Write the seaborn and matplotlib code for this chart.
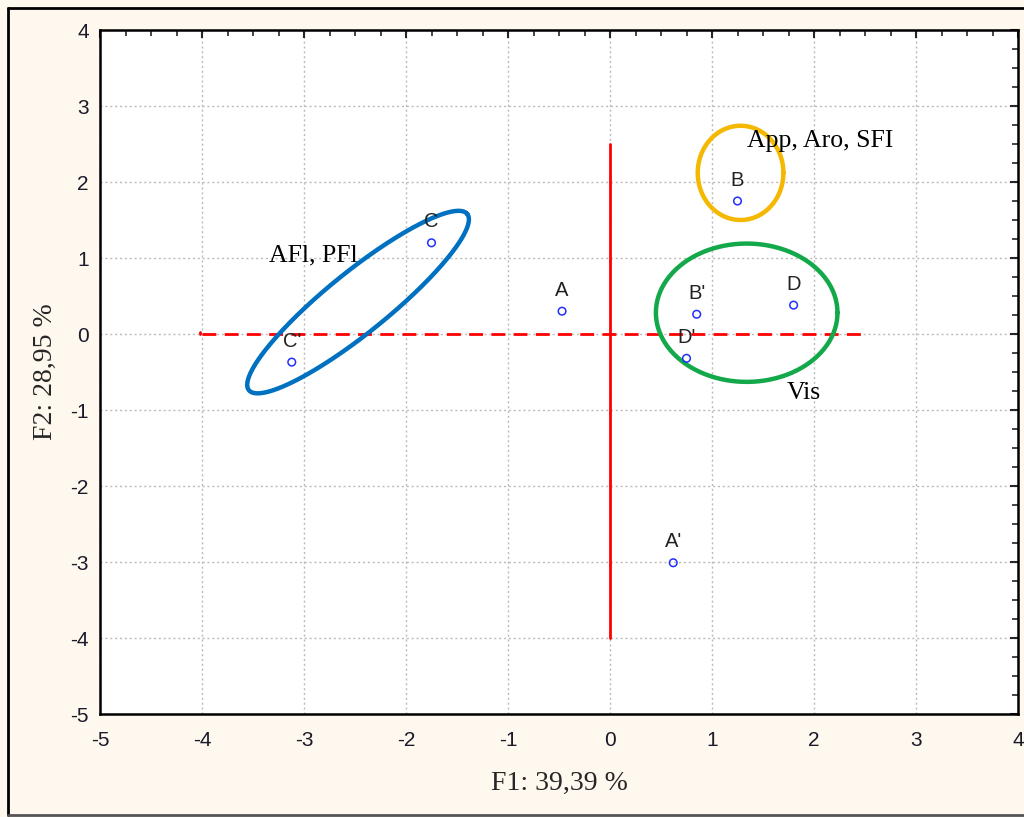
import matplotlib
matplotlib.use("Agg")
import matplotlib.pyplot as plt
from matplotlib.lines import Line2D
from matplotlib.ticker import MultipleLocator
import seaborn as sns
import numpy as np
import pandas as pd

# sample scores on the first two factors
samples = ["C", "C'", "A", "B", "B'", "D", "D'", "A'"]
f1 = [-1.75, -3.12, -0.47, 1.25, 0.85, 1.80, 0.75, 0.62]
f2 = [1.20, -0.37, 0.30, 1.75, 0.26, 0.38, -0.32, -3.01]

# group annotations: text, text position
group_text = ["AFl, PFl", "App, Aro, SFI", "Vis"]
group_text_x = [-3.34, 1.34, 1.73]
group_text_y = [1.04, 2.54, -0.78]

# ellipses around groups: centre, semi-axis vectors (data units), colour
ell_center = [(-2.47, 0.42), (1.28, 2.12), (1.34, 0.28)]
ell_u = [(1.07, 1.16), (0.42, 0.0), (0.89, 0.0)]
ell_v = [(-0.19, 0.31), (0.0, 0.62), (0.0, 0.91)]
ell_color = ["#0070C0", "#F5B800", "#13A84A"]

df = pd.DataFrame({"F1": f1, "F2": f2, "sample": samples})

sns.set_style("white")
plt.rcParams["font.family"] = ["Liberation Sans", "DejaVu Sans"]
plt.rcParams["axes.unicode_minus"] = False

fig = plt.figure(figsize=(10.24, 8.17), dpi=100)
fig.patch.set_facecolor("#FFF8EE")
ax = fig.add_axes([100 / 1024, 1 - 714 / 817, 918 / 1024, 684 / 817])
ax.set_facecolor("white")

# cross through the origin
ax.plot([0, 0], [-4, 2.5], color="red", lw=2, zorder=2)
ax.plot([-4, 2.5], [0, 0], color="red", lw=2, ls=(0, (5, 3)), zorder=2)
ax.plot([-4.02, -4.02], [0, 0.03], color="red", lw=2, zorder=2)

sns.scatterplot(data=df, x="F1", y="F2", ax=ax, marker="o", s=30,
                facecolor="none", edgecolor="#2030FF", linewidth=1.1, zorder=4)

for name, x, y in zip(samples, f1, f2):
    ax.annotate(name, (x, y), xytext=(0, 15), textcoords="offset points",
                ha="center", va="center", fontsize=14.5, color="#222222", zorder=5)

t = np.linspace(0, 2 * np.pi, 300)
for c, u, v, col in zip(ell_center, ell_u, ell_v, ell_color):
    ex = c[0] + u[0] * np.cos(t) + v[0] * np.sin(t)
    ey = c[1] + u[1] * np.cos(t) + v[1] * np.sin(t)
    ax.plot(ex, ey, color=col, lw=3.2, zorder=3)

serif = ["Liberation Serif", "DejaVu Serif"]
for txt, x, y in zip(group_text, group_text_x, group_text_y):
    ax.text(x, y, txt, fontsize=18.5, family=serif,
            ha="left", va="center", color="black", zorder=5)

ax.set_xlim(-5, 4)
ax.set_ylim(-5, 4)
ax.xaxis.set_major_locator(MultipleLocator(1))
ax.yaxis.set_major_locator(MultipleLocator(1))
ax.xaxis.set_minor_locator(MultipleLocator(0.25))
ax.yaxis.set_minor_locator(MultipleLocator(0.25))
ax.grid(True, which="major", color="#BBBBBB", ls=(0, (1.5, 2)), lw=1)
ax.set_axisbelow(True)
ax.tick_params(which="major", direction="in", length=6, width=1.5, labelsize=15,
               top=True, right=True, labelcolor="#1A1A2A")
ax.tick_params(axis="x", which="major", pad=12)
ax.tick_params(axis="y", which="major", pad=8)
ax.tick_params(which="minor", direction="in", length=4, width=1.2, top=True, right=True)
for sp in ax.spines.values():
    sp.set_linewidth(1.8)
    sp.set_color("black")

ax.set_xlabel("F1: 39,39 %", fontsize=20, family=serif, labelpad=15)
ax.set_ylabel("F2: 28,95 %", fontsize=20, family=serif, labelpad=9)

# outer frame of the figure
fig.add_artist(Line2D([8 / 1024, 8 / 1024], [2 / 817, 1 - 8 / 817], color="black", lw=2,
                      transform=fig.transFigure))
fig.add_artist(Line2D([8 / 1024, 1], [1 - 8 / 817, 1 - 8 / 817], color="black", lw=2,
                      transform=fig.transFigure))
fig.add_artist(Line2D([8 / 1024, 1], [2 / 817, 2 / 817], color="#555555", lw=2,
                      transform=fig.transFigure))

fig.savefig("out.png", dpi=100, facecolor=fig.get_facecolor())
